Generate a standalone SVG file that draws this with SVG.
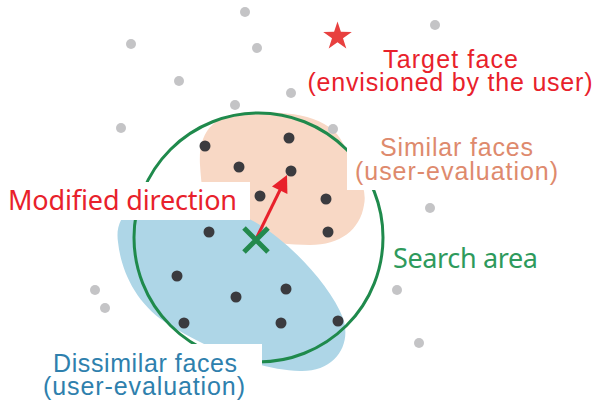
<svg xmlns="http://www.w3.org/2000/svg" width="595" height="404" viewBox="0 0 595 404">
<style>
.g{fill:#c4c4c6}
.d{fill:#3b3b3f}
.lbl{font-family:"Liberation Sans",Arial,sans-serif;font-size:25px;text-anchor:middle}
.lbl2{font-family:"Noto Sans","Open Sans",sans-serif;font-size:27px}
.mask{fill:#ffffff}
</style>
<rect width="595" height="404" fill="#ffffff"/>
<g id="similar-region">
<path d="M 200,165 C 198,130 215,112 255,112 C 300,112 335,118 346,150 C 354,170 368,185 364,205 C 360,230 340,245 310,245 C 280,245 255,240 230,230 C 205,220 202,195 200,165 Z" fill="#f8d8c5"/>
</g>
<g id="dissimilar-region">
<path d="M 118,242 C 114,215 135,200 165,200 C 200,200 230,208 255,222 C 290,242 330,285 343,318 C 352,345 335,372 300,371 C 255,370 200,345 165,322 C 135,302 121,270 118,242 Z" fill="#aed6e7"/>
</g>
<g id="search-area">
<circle cx="258.5" cy="237.5" r="124.5" fill="none" stroke="#1f8a4c" stroke-width="3"/>
</g>
<g id="label-masks">
<rect class="mask" x="0" y="182" width="250" height="38"/>
<rect class="mask" x="40" y="344" width="222" height="60"/>
<rect class="mask" x="347" y="118" width="220" height="72"/>
</g>
<g id="faces-outside">
<circle class="g" cx="245" cy="12" r="5"/>
<circle class="g" cx="131" cy="44" r="5"/>
<circle class="g" cx="257" cy="48" r="5"/>
<circle class="g" cx="179" cy="81" r="5"/>
<circle class="g" cx="291" cy="93" r="5"/>
<circle class="g" cx="235" cy="105" r="5"/>
<circle class="g" cx="121" cy="128" r="5"/>
<circle class="g" cx="333" cy="129" r="5"/>
<circle class="g" cx="435" cy="25" r="5"/>
<circle class="g" cx="430" cy="208" r="5"/>
<circle class="g" cx="397" cy="290" r="5"/>
<circle class="g" cx="419" cy="343" r="5"/>
<circle class="g" cx="95" cy="290" r="5"/>
<circle class="g" cx="105" cy="308" r="5"/>
</g>
<g id="faces-inside">
<circle class="d" cx="205" cy="146" r="5.5"/>
<circle class="d" cx="289" cy="138" r="5.5"/>
<circle class="d" cx="239" cy="167" r="5.5"/>
<circle class="d" cx="291" cy="171" r="5.5"/>
<circle class="d" cx="260" cy="196" r="5.5"/>
<circle class="d" cx="326" cy="199" r="5.5"/>
<circle class="d" cx="328" cy="232" r="5.5"/>
<circle class="d" cx="209" cy="232" r="5.5"/>
<circle class="d" cx="177" cy="276" r="5.5"/>
<circle class="d" cx="236" cy="297" r="5.5"/>
<circle class="d" cx="286" cy="289" r="5.5"/>
<circle class="d" cx="184" cy="323" r="5.5"/>
<circle class="d" cx="281" cy="323" r="5.5"/>
<circle class="d" cx="338" cy="321" r="5.5"/>
</g>
<g id="target">
<polygon points="337.5,21.5 340.9,31.8 351.8,31.9 343.0,38.3 346.3,48.6 337.5,42.3 328.7,48.6 332.0,38.3 323.2,31.9 334.1,31.8" fill="#e8403f"/>
<text class="lbl" fill="#e8212b"><tspan x="450.5" y="68" textLength="135">Target face</tspan><tspan x="450" y="91" textLength="285">(envisioned by the user)</tspan></text>
</g>
<g id="connectors">
<line x1="256" y1="239" x2="281" y2="188" stroke="#e8212b" stroke-width="3"/>
<polygon points="287,175 287.4,194 272,186.6" fill="#e8212b"/>
</g>
<g id="current">
<path d="M 244,228 L 268,252 M 268,228 L 244,252" stroke="#23894d" stroke-width="5" fill="none"/>
</g>
<g id="similar">
<text class="lbl" fill="#de8a6d"><tspan x="456.5" y="156" textLength="153">Similar faces</tspan><tspan x="456.5" y="180" textLength="203">(user-evaluation)</tspan></text>
</g>
<g id="dissimilar">
<text class="lbl" fill="#2e80ad"><tspan x="145" y="372" textLength="184">Dissimilar faces</tspan><tspan x="144" y="395" textLength="202">(user-evaluation)</tspan></text>
</g>
<g id="modified-direction">
<text class="lbl2" x="8" y="210" fill="#e8212b" textLength="229">Modified direction</text>
</g>
<g id="search-label">
<text class="lbl2" x="393" y="268" fill="#2e9a5c" font-size="25" textLength="145">Search area</text>
</g>
</svg>
